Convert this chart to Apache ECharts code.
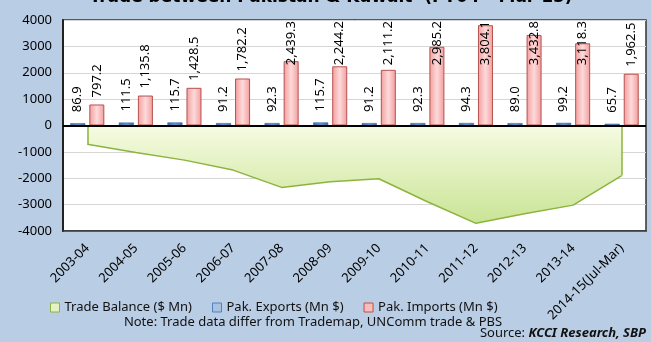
<!DOCTYPE html>
<html><head><meta charset="utf-8">
<script src="https://cdn.jsdelivr.net/npm/echarts@6/dist/echarts.min.js"></script>
<style>html,body{margin:0;padding:0;background:#B9CDE5}#c{width:651px;height:342px}</style>
</head><body><div id="c"></div>
<script>
var categories = ['2003-04','2004-05','2005-06','2006-07','2007-08','2008-09','2009-10','2010-11','2011-12','2012-13','2013-14','2014-15(Jul-Mar)'];
var exportsVals = [86.9,111.5,115.7,91.2,92.3,115.7,91.2,92.3,94.3,89.0,99.2,65.7];
var importsVals = [797.2,1135.8,1428.5,1782.2,2439.3,2244.2,2111.2,2985.2,3804.1,3432.8,3118.3,1962.5];
var balanceVals = [-710.3,-1024.3,-1312.8,-1691.0,-2347.0,-2128.5,-2020.0,-2892.9,-3709.8,-3343.8,-3019.1,-1896.8];
var yMin = -4000, yMax = 4000, yStep = 1000;
var seriesNames = ['Trade Balance ($ Mn)','Pak. Exports (Mn $)','Pak. Imports (Mn $)'];
var titleText = 'Trade between Pakistan & Kuwait  (FY04 - Mar 15)';
var noteText = 'Note: Trade data differ from Trademap, UNComm trade & PBS';

var FONT = '"Noto Sans", sans-serif';
var GRID_TOP = 20;
var chart = echarts.init(document.getElementById('c'), null, {renderer:'canvas'});
function fmt(v){ return v.toLocaleString('en-US',{minimumFractionDigits:1,maximumFractionDigits:1}); }
var G = echarts.graphic;
var edgeLines = [
  [{xAxis:0,yAxis:0},{xAxis:0,yAxis:balanceVals[0]}],
  [{xAxis:categories.length-1,yAxis:0},{xAxis:categories.length-1,yAxis:balanceVals[balanceVals.length-1]}]
];
chart.setOption({
  backgroundColor:'#B9CDE5',
  animation:false,
  textStyle:{fontFamily:FONT},
  grid:{left:63,right:5,top:GRID_TOP,bottom:111,show:true,backgroundColor:'#ffffff',borderColor:'#333',borderWidth:1.5},
  legend:{
    left:45, top:296, itemWidth:9, itemHeight:9, itemGap:20, icon:'rect',
    textStyle:{fontFamily:FONT,fontSize:13,color:'#111'},
    data:[
      {name:seriesNames[0], itemStyle:{color:'#E4F2C4',borderColor:'#8DB33F',borderWidth:1}},
      {name:seriesNames[1], itemStyle:{color:'#A9C1E2',borderColor:'#4F81BD',borderWidth:1}},
      {name:seriesNames[2], itemStyle:{color:'#F6BDBD',borderColor:'#C0504D',borderWidth:1}}
    ]
  },
  xAxis:{
    type:'category', data:categories,
    axisTick:{show:false},
    axisLine:{show:true,onZero:false,lineStyle:{color:'#333',width:1.5}},
    axisLabel:{interval:0,rotate:45,fontSize:13,color:'#000',margin:15,fontFamily:FONT}
  },
  yAxis:{
    type:'value', min:yMin, max:yMax, interval:yStep,
    axisLine:{show:true,lineStyle:{color:'#222',width:2}},
    axisTick:{show:false},
    splitLine:{lineStyle:{color:'#D6D6D6',width:1}},
    axisLabel:{fontSize:13,color:'#000',margin:11,fontFamily:FONT,formatter:function(v){return String(v);}}
  },
  series:[
    {
      name:seriesNames[0], type:'line', data:balanceVals, symbol:'none', z:1,
      lineStyle:{color:'#8DB33F',width:1.5},
      areaStyle:{color:new G.LinearGradient(0,0,0,1,[{offset:0,color:'#F6FBE2'},{offset:1,color:'#C9E495'}]),opacity:1},
      markLine:{silent:true,symbol:'none',label:{show:false},lineStyle:{color:'#8DB33F',width:1.5,type:'solid'},data:edgeLines}
    },
    {
      name:seriesNames[1], type:'bar', data:exportsVals, barWidth:15, barGap:'27%', z:3,
      itemStyle:{color:new G.LinearGradient(0,0,1,0,[{offset:0,color:'#3D6EA8'},{offset:0.5,color:'#6D97CC'},{offset:1,color:'#3D6EA8'}]),borderColor:'#2F5A8E',borderWidth:0.5},
      label:{show:true,position:'top',rotate:90,align:'left',verticalAlign:'middle',distance:11,fontSize:13,color:'#000',fontFamily:FONT,formatter:function(p){return fmt(p.value);}}
    },
    {
      name:seriesNames[2], type:'bar', data:importsVals, barWidth:15, z:3,
      itemStyle:{color:new G.LinearGradient(0,0,1,0,[{offset:0,color:'#F39C9C'},{offset:0.5,color:'#FDDADA'},{offset:1,color:'#F39C9C'}]),borderColor:'#B5524E',borderWidth:1},
      label:{show:true,position:'top',rotate:90,align:'left',verticalAlign:'middle',distance:7,fontSize:13,color:'#000',fontFamily:FONT,formatter:function(p){return fmt(p.value);}},
      labelLayout:function(p){
        var r = p.labelRect;
        if (r.y < GRID_TOP + 1) { return {y: GRID_TOP + 1 + r.height}; }
        return {};
      },
      markLine:{silent:true,symbol:'none',label:{show:false},lineStyle:{color:'#000',width:2,type:'solid'},data:[{yAxis:0}],z:10}
    }
  ],
  graphic:[
    {type:'text', x:331, y:6, z:100, style:{text:titleText, font:'bold 17px "DejaVu Sans", sans-serif', fill:'#000', align:'center', verticalAlign:'bottom'}},
    {type:'text', x:313, y:322, z:100, style:{text:noteText, font:'13px "Noto Sans", sans-serif', fill:'#111', align:'center', verticalAlign:'middle'}},
    {type:'text', x:646, y:333, z:100, style:{text:'{a|Source: }{b|KCCI Research, SBP}', align:'right', verticalAlign:'middle', fill:'#111',
      rich:{a:{fontFamily:'Noto Sans',fontSize:13,fill:'#111'},b:{fontFamily:'Noto Sans',fontSize:13,fontWeight:'bold',fontStyle:'italic',fill:'#111'}}}}
  ]
});
</script></body></html>
